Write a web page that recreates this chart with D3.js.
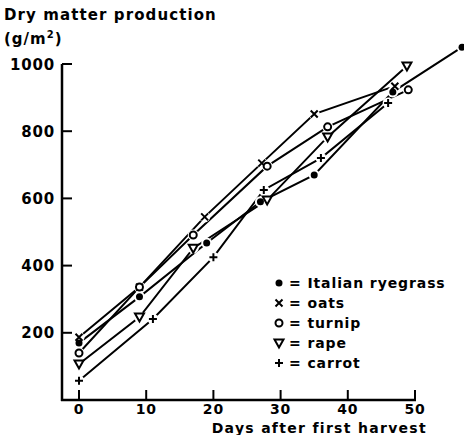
<!DOCTYPE html>
<html>
<head>
<meta charset="utf-8">
<script src="https://cdn.jsdelivr.net/npm/d3@7"></script>
<style>
  body { margin: 0; background: #fff; }
  text { font-family: "DejaVu Sans", sans-serif; font-weight: bold; fill: #000; }
</style>
</head>
<body>
<svg id="chart" width="464" height="435"></svg>
<script>
// values (day, g/m2)
var ryegrass = [[0,170],[9,307],[19,467],[27,590],[35,670],[46.7,917],[57,1050]]
var oats     = [[0,187],[9,336],[18.7,545],[27.2,705],[35,851],[47,934]]
var turnip   = [[0,140],[9,336],[17,491],[28,696],[37,813],[49,923]]
var rape     = [[0,107],[9,247],[17,452],[28,595],[37,783],[48.8,994]]
var carrot   = [[0,57],[11,241],[20,425],[27.5,625],[36,720],[46,884]]

var seriesNames = ['Italian ryegrass', 'oats', 'turnip', 'rape', 'carrot']
var seriesData  = [ryegrass, oats, turnip, rape, carrot]
var symbols     = ['dot', 'cross', 'circle', 'tri', 'plus']

var xTicks = [0, 10, 20, 30, 40, 50]
var yTicks = [200, 400, 600, 800, 1000]

var svg = d3.select('#chart')

var x = d3.scaleLinear().domain([0, 50]).range([79, 415])
var y = d3.scaleLinear().domain([0, 1000]).range([400, 64])

// axes, ticks pointing inward
var g = svg.append('g')
g.append('line').attr('x1', 62).attr('x2', 62).attr('y1', y(1000)).attr('y2', 401)
  .attr('stroke', '#000').attr('stroke-width', 2.5)
g.append('line').attr('x1', 61).attr('x2', x(50) + 1).attr('y1', 400).attr('y2', 400)
  .attr('stroke', '#000').attr('stroke-width', 2.5)

g.selectAll('.yt').data(yTicks).enter().append('line')
  .attr('x1', 62).attr('x2', 72).attr('y1', d => y(d)).attr('y2', d => y(d))
  .attr('stroke', '#000').attr('stroke-width', 2)
g.selectAll('.ytl').data(yTicks).enter().append('text')
  .attr('x', 55).attr('y', d => y(d) + 5.5).attr('text-anchor', 'end')
  .attr('font-size', 15).attr('letter-spacing', 0.8).text(d => d)

g.selectAll('.xt').data(xTicks).enter().append('line')
  .attr('x1', d => x(d)).attr('x2', d => x(d)).attr('y1', 400).attr('y2', 390)
  .attr('stroke', '#000').attr('stroke-width', 2)
g.selectAll('.xtl').data(xTicks).enter().append('text')
  .attr('x', d => x(d)).attr('y', 414).attr('text-anchor', 'middle')
  .attr('font-size', 14).attr('letter-spacing', 0.8).text(d => d)

svg.append('text').attr('x', 427).attr('y', 433).attr('text-anchor', 'end')
  .attr('font-size', 14).attr('letter-spacing', 1.3).text('Days after first harvest')
svg.append('text').attr('x', 4).attr('y', 20).attr('font-size', 15)
  .attr('letter-spacing', 1.1).text('Dry matter production')
var unit = svg.append('text').attr('x', 4).attr('y', 44).attr('font-size', 15).attr('letter-spacing', 1)
unit.append('tspan').text('(g/m')
unit.append('tspan').attr('dy', -6).attr('font-size', 10).text('2')
unit.append('tspan').attr('dy', 6).text(')')

var line = d3.line().x(d => x(d[0])).y(d => y(d[1]))

svg.selectAll('.series').data(seriesData).enter().append('path')
  .attr('d', line).attr('fill', 'none').attr('stroke', '#000').attr('stroke-width', 2)

function drawSymbol (sel, kind) {
  if (kind == 'dot') {
    sel.append('circle').attr('r', 3.5).attr('fill', '#000')
  } else if (kind == 'circle') {
    sel.append('circle').attr('r', 3.5).attr('fill', '#fff').attr('stroke', '#000').attr('stroke-width', 2)
  } else if (kind == 'cross') {
    sel.append('path').attr('d', 'M-3.5,-3.5L3.5,3.5M-3.5,3.5L3.5,-3.5').attr('stroke', '#000').attr('stroke-width', 2)
  } else if (kind == 'plus') {
    sel.append('path').attr('d', 'M-4,0L4,0M0,-4L0,4').attr('stroke', '#000').attr('stroke-width', 2)
  } else if (kind == 'tri') {
    sel.append('path').attr('d', 'M-4.5,-3.5L4.5,-3.5L0,4.5Z').attr('fill', '#fff').attr('stroke', '#000').attr('stroke-width', 2)
  }
}

// white halos give the small gaps between lines and markers
seriesData.forEach(function (data, i) {
  svg.selectAll('.halo' + i).data(data).enter().append('circle')
    .attr('cx', d => x(d[0])).attr('cy', d => y(d[1])).attr('r', 5.5).attr('fill', '#fff')
})
seriesData.forEach(function (data, i) {
  svg.selectAll('.pt' + i).data(data).enter().append('g')
    .attr('transform', d => 'translate(' + x(d[0]) + ',' + y(d[1]) + ')')
    .each(function () { drawSymbol(d3.select(this), symbols[i]) })
})

// legend
var legend = svg.selectAll('.leg').data(seriesNames).enter().append('g')
  .attr('transform', (d, i) => 'translate(279,' + (283 + i * 20) + ')')
legend.each(function (d, i) { drawSymbol(d3.select(this), symbols[i]) })
legend.append('text').attr('x', 10).attr('y', 5).attr('font-size', 14)
  .attr('letter-spacing', 0.9).text(d => '= ' + d)
</script>
</body>
</html>
